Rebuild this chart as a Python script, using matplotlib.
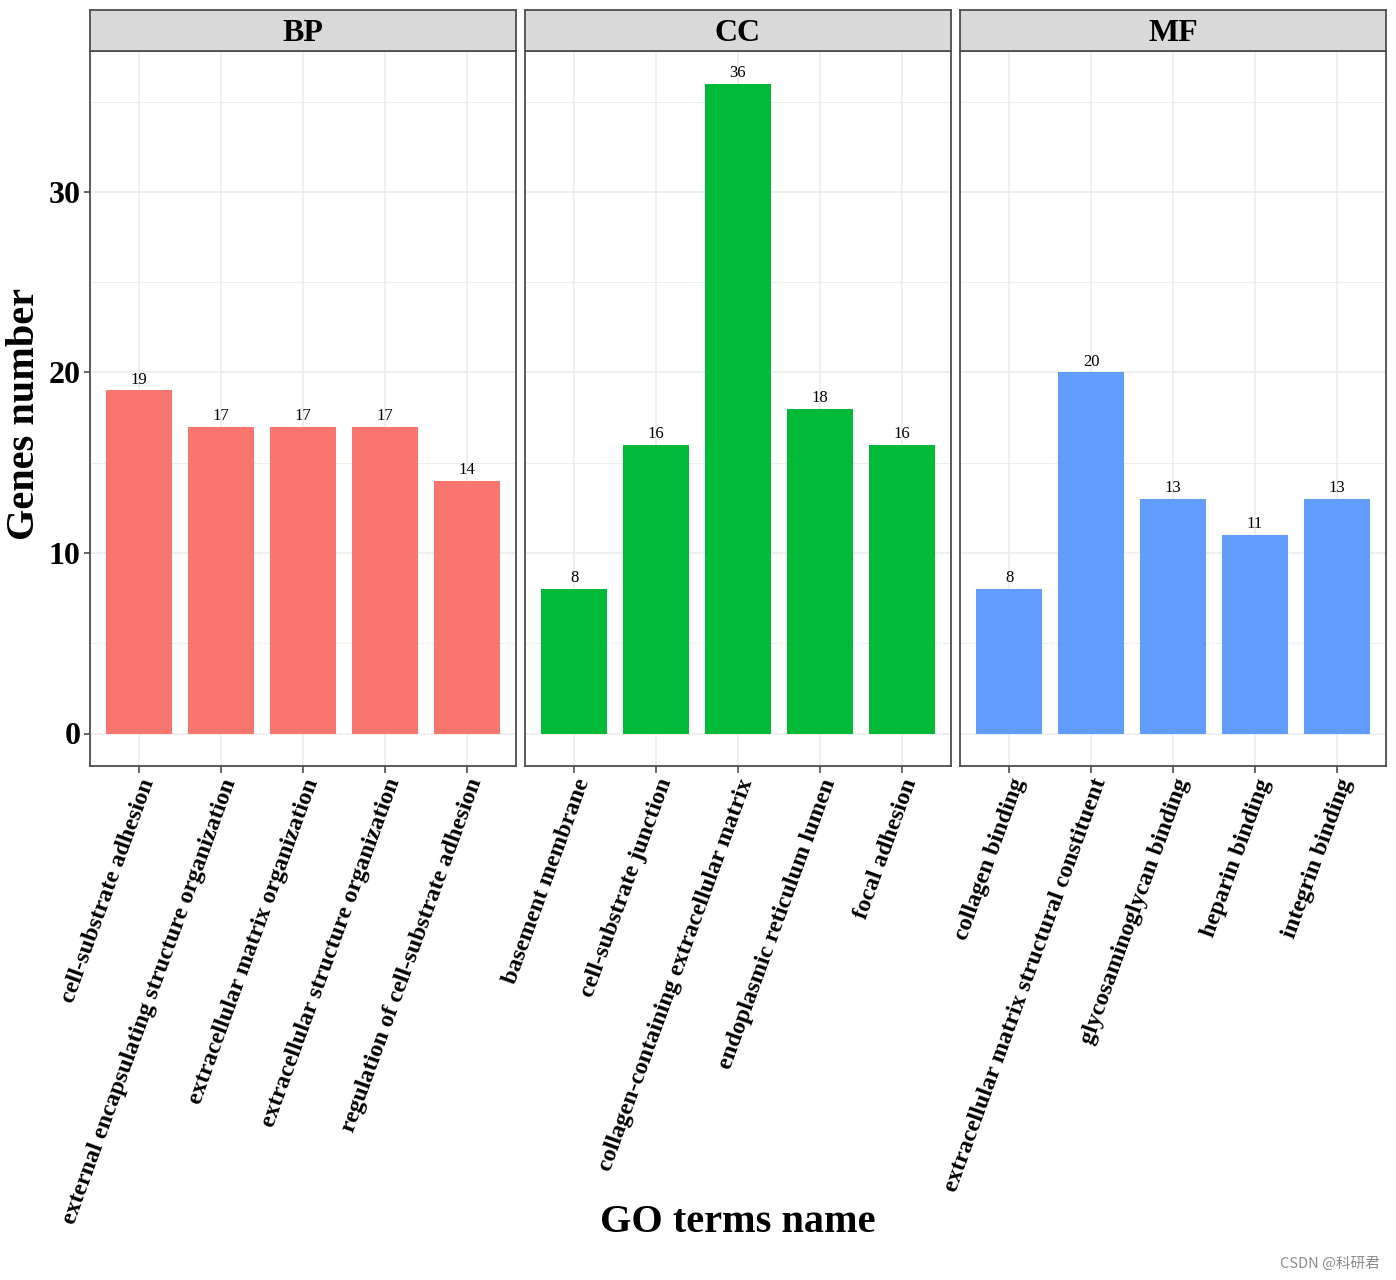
import matplotlib as mpl
mpl.use('Agg')
import matplotlib.pyplot as plt

plt.rcParams['font.family'] = ['Liberation Serif', 'DejaVu Serif']

# data
facets = ['BP', 'CC', 'MF']
bp_terms = ['cell-substrate adhesion',
            'external encapsulating structure organization',
            'extracellular matrix organization',
            'extracellular structure organization',
            'regulation of cell-substrate adhesion']
bp_counts = [19, 17, 17, 17, 14]
cc_terms = ['basement membrane',
            'cell-substrate junction',
            'collagen-containing extracellular matrix',
            'endoplasmic reticulum lumen',
            'focal adhesion']
cc_counts = [8, 16, 36, 18, 16]
mf_terms = ['collagen binding',
            'extracellular matrix structural constituent',
            'glycosaminoglycan binding',
            'heparin binding',
            'integrin binding']
mf_counts = [8, 20, 13, 11, 13]
colors = ['#F8766D', '#00BA38', '#619CFF']

terms = [bp_terms, cc_terms, mf_terms]
counts = [bp_counts, cc_counts, mf_counts]

W, H = 1396, 1280
fig = plt.figure(figsize=(W / 100, H / 100), dpi=100)

panel_x = [90, 525, 960]
panel_w = 426
panel_top = 51
panel_bot = 766
strip_top = 10

ymax = max(max(c) for c in counts)
ylim = (-0.05 * ymax, 1.05 * ymax)
border = '#4d4d4d'
grid = '#ebebeb'

for i, facet in enumerate(facets):
    x0 = panel_x[i] / W
    ax = fig.add_axes([x0, 1 - panel_bot / H, panel_w / W,
                       (panel_bot - panel_top) / H])
    n = len(terms[i])
    pos = list(range(1, n + 1))
    ax.set_xlim(0.4, n + 0.6)
    ax.set_ylim(*ylim)
    ax.set_axisbelow(True)
    ax.set_yticks([0, 10, 20, 30])
    ax.set_yticks([5, 15, 25, 35], minor=True)
    ax.grid(which='major', color=grid, linewidth=1.1)
    ax.grid(which='minor', axis='y', color=grid, linewidth=0.6)
    ax.bar(pos, counts[i], width=0.8, color=colors[i], zorder=2)
    for p, v in zip(pos, counts[i]):
        ax.annotate(str(v), (p, v), xytext=(0, 2), textcoords='offset points',
                    ha='center', va='bottom', fontsize=12)
    ax.set_xticks(pos)
    ax.set_xticklabels(terms[i], rotation=70, ha='right', va='top',
                       rotation_mode='anchor', fontsize=17.5,
                       fontweight='bold')
    ax.tick_params(axis='x', length=5, width=1.2, color=border, pad=2)
    ax.tick_params(axis='y', which='minor', length=0)
    if i == 0:
        ax.set_yticklabels(['0', '10', '20', '30'], fontsize=23,
                           fontweight='bold')
        ax.tick_params(axis='y', which='major', length=4, width=1.2,
                       color=border, pad=3)
    else:
        ax.tick_params(axis='y', which='major', length=0, labelleft=False)
    for s in ax.spines.values():
        s.set_color(border)
        s.set_linewidth(1.3)

    # facet strip
    sax = fig.add_axes([x0, 1 - panel_top / H, panel_w / W,
                        (panel_top - strip_top) / H])
    sax.set_facecolor('#d9d9d9')
    sax.set_xticks([])
    sax.set_yticks([])
    for s in sax.spines.values():
        s.set_color(border)
        s.set_linewidth(1.3)
    sax.text(0.5, 0.42, facet, transform=sax.transAxes, ha='center',
             va='center', fontsize=23, fontweight='bold')

fig.text(738 / W, 1 - 1222 / H, 'GO terms name', ha='center', va='center',
         fontsize=29, fontweight='bold')
fig.text(25 / W, 1 - 414 / H, 'Genes number', ha='center', va='center',
         rotation=90, fontsize=29, fontweight='bold')
fig.text(1380 / W, 1 - 1264 / H, 'CSDN @科研君', ha='right', va='center',
         fontsize=10.5, color='#8c8c8c',
         family=['Noto Sans CJK SC', 'DejaVu Sans'])

fig.savefig('out.png', dpi=100)
plt.close()
